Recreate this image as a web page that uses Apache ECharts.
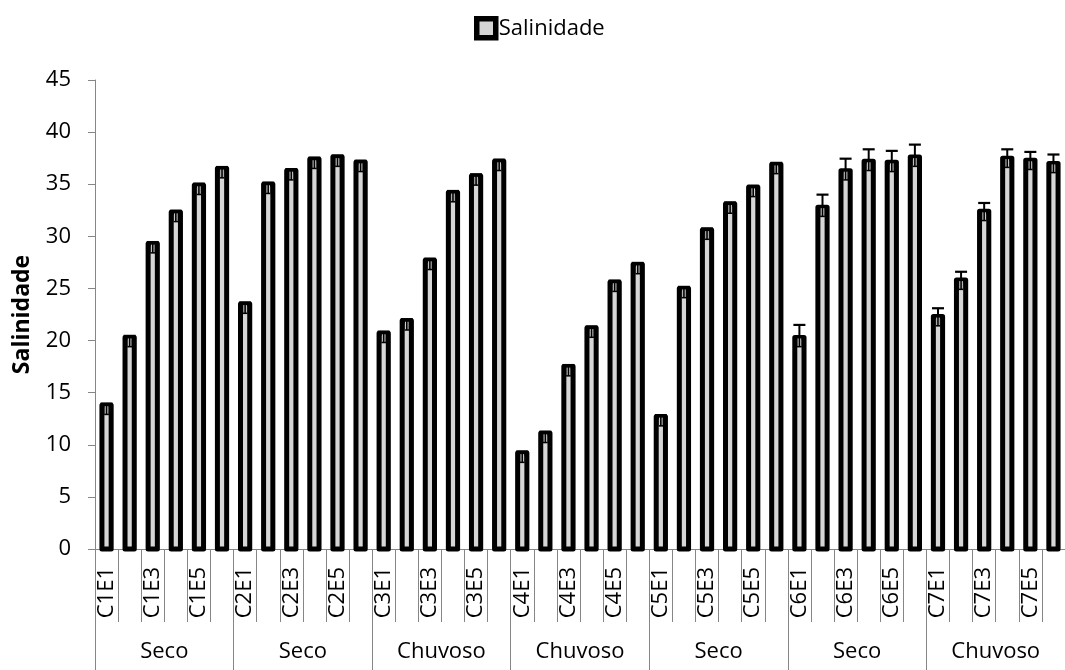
<!DOCTYPE html>
<html>
<head>
<meta charset="utf-8">
<script src="https://cdn.jsdelivr.net/npm/echarts@6/dist/echarts.min.js"></script>
<style>
  html, body { margin: 0; padding: 0; background: #fff; }
  #chart { width: 1065px; height: 670px; }
</style>
</head>
<body>
<div id="chart"></div>
<script>
// Sampling points: campaign (C) x station (E)
const categories = [
  'C1E1','C1E2','C1E3','C1E4','C1E5','C1E6',
  'C2E1','C2E2','C2E3','C2E4','C2E5','C2E6',
  'C3E1','C3E2','C3E3','C3E4','C3E5','C3E6',
  'C4E1','C4E2','C4E3','C4E4','C4E5','C4E6',
  'C5E1','C5E2','C5E3','C5E4','C5E5','C5E6',
  'C6E1','C6E2','C6E3','C6E4','C6E5','C6E6',
  'C7E1','C7E2','C7E3','C7E4','C7E5','C7E6'
];

// Season of each campaign
const seasons = ['Seco', 'Seco', 'Chuvoso', 'Chuvoso', 'Seco', 'Seco', 'Chuvoso'];

// Mean salinity per point
const salinity = [
  13.8, 20.3, 29.3, 32.3, 34.9, 36.5,
  23.5, 35.0, 36.3, 37.4, 37.6, 37.1,
  20.7, 21.9, 27.7, 34.2, 35.8, 37.2,
   9.2, 11.1, 17.5, 21.2, 25.6, 27.3,
  12.7, 25.0, 30.6, 33.1, 34.7, 36.9,
  20.3, 32.8, 36.3, 37.2, 37.1, 37.6,
  22.3, 25.8, 32.4, 37.5, 37.3, 37.0
];

// Standard deviation per point
const salinityError = [
  0.15, 0.15, 0.15, 0.15, 0.15, 0.15,
  0.15, 0.15, 0.15, 0.15, 0.15, 0.15,
  0.15, 0.15, 0.15, 0.15, 0.15, 0.15,
  0.15, 0.15, 0.15, 0.15, 0.15, 0.15,
  0.15, 0.15, 0.15, 0.15, 0.15, 0.15,
  1.2, 1.2, 1.15, 1.15, 1.1, 1.2,
  0.8, 0.8, 0.8, 0.85, 0.8, 0.85
];

const yTicks = { min: 0, max: 45, interval: 5 };

const FONT = '"Open Sans", "Noto Sans", sans-serif';
const AXIS_GREY = '#868686';
const BAR_FILL = '#d6d6d6';
const BAR_EDGE = '#000';

const barData = salinity.map((v, i) => [i, v]);
const errorData = salinity.map((v, i) => [i, v, salinityError[i]]);

// Column with a heavy outline centred on the value edge
function renderBar(params, api) {
  const i = api.value(0);
  const v = api.value(1);
  const top = api.coord([i, v]);
  const base = api.coord([i, 0]);
  const w = api.size([1, 0])[0] * 0.4;
  return {
    type: 'rect',
    shape: { x: top[0] - w / 2, y: top[1], width: w, height: base[1] - top[1] },
    style: { fill: BAR_FILL, stroke: BAR_EDGE, lineWidth: 5, lineJoin: 'round' }
  };
}

// Whisker with a cap, plus the dark tab at the column head
function renderErrorBar(params, api) {
  const i = api.value(0);
  const v = api.value(1);
  const e = api.value(2);
  const base = api.coord([i, v]);
  const top = api.coord([i, v + e]);
  const x = base[0];
  const y = base[1];
  return {
    type: 'group',
    children: [
      { type: 'rect', shape: { x: x - 2.4, y: y, width: 4.8, height: 10 }, style: { fill: '#000' } },
      { type: 'line', shape: { x1: x - 1.3, y1: y + 1, x2: x - 1.3, y2: y + 8.5 }, style: { stroke: '#e6e6e6', lineWidth: 0.9 } },
      { type: 'line', shape: { x1: x + 1.3, y1: y + 1, x2: x + 1.3, y2: y + 8.5 }, style: { stroke: '#e6e6e6', lineWidth: 0.9 } },
      { type: 'line', shape: { x1: x, y1: top[1], x2: x, y2: y }, style: { stroke: '#000', lineWidth: 2 } },
      { type: 'line', shape: { x1: x - 6, y1: top[1], x2: x + 6, y2: top[1] }, style: { stroke: '#000', lineWidth: 2.2 } }
    ]
  };
}

const chart = echarts.init(document.getElementById('chart'));
chart.setOption({
  animation: false,
  backgroundColor: '#fff',
  textStyle: { fontFamily: FONT, color: '#000' },
  legend: {
    data: ['Salinidade'],
    left: 474,
    top: 16,
    padding: 0,
    icon: 'rect',
    itemWidth: 19,
    itemHeight: 19,
    itemGap: 4,
    itemStyle: { color: BAR_FILL, borderColor: BAR_EDGE, borderWidth: 5.5 },
    textStyle: { fontFamily: FONT, fontSize: 22, color: '#000', padding: [0, 0, 0, -2] }
  },
  grid: { left: 95, top: 80, width: 981, height: 469 },
  xAxis: [
    {
      type: 'category',
      data: categories,
      position: 'bottom',
      axisLine: { show: true, lineStyle: { color: AXIS_GREY, width: 1 } },
      axisTick: { show: true, interval: 0, length: 73, lineStyle: { color: AXIS_GREY } },
      axisLabel: {
        interval: 1,
        rotate: 90,
        margin: 18,
        fontFamily: FONT,
        fontSize: 22,
        color: '#000'
      },
      splitLine: { show: false }
    },
    {
      type: 'category',
      data: seasons,
      position: 'bottom',
      axisLine: { show: false },
      axisTick: { show: true, interval: 0, length: 130, lineStyle: { color: AXIS_GREY } },
      axisLabel: {
        interval: 0,
        margin: 92,
        fontFamily: FONT,
        fontSize: 22,
        color: '#000'
      },
      splitLine: { show: false }
    }
  ],
  yAxis: {
    type: 'value',
    min: yTicks.min,
    max: yTicks.max,
    interval: yTicks.interval,
    name: 'Salinidade',
    nameLocation: 'middle',
    nameGap: 61,
    nameTextStyle: { fontFamily: FONT, fontSize: 23, fontWeight: 'bold', color: '#000' },
    axisLine: { show: true, lineStyle: { color: AXIS_GREY, width: 1 } },
    axisTick: { show: true, length: 7, lineStyle: { color: AXIS_GREY } },
    axisLabel: { margin: 24, fontFamily: FONT, fontSize: 22, color: '#000' },
    splitLine: { show: false }
  },
  series: [
    {
      name: 'Salinidade',
      type: 'custom',
      xAxisIndex: 0,
      data: barData,
      renderItem: renderBar,
      itemStyle: { color: BAR_FILL, borderColor: BAR_EDGE, borderWidth: 5.5 },
      clip: false,
      silent: true,
      z: 2
    },
    {
      name: 'Desvio',
      type: 'custom',
      xAxisIndex: 0,
      data: errorData,
      renderItem: renderErrorBar,
      clip: false,
      silent: true,
      z: 5
    }
  ]
});
</script>
</body>
</html>
